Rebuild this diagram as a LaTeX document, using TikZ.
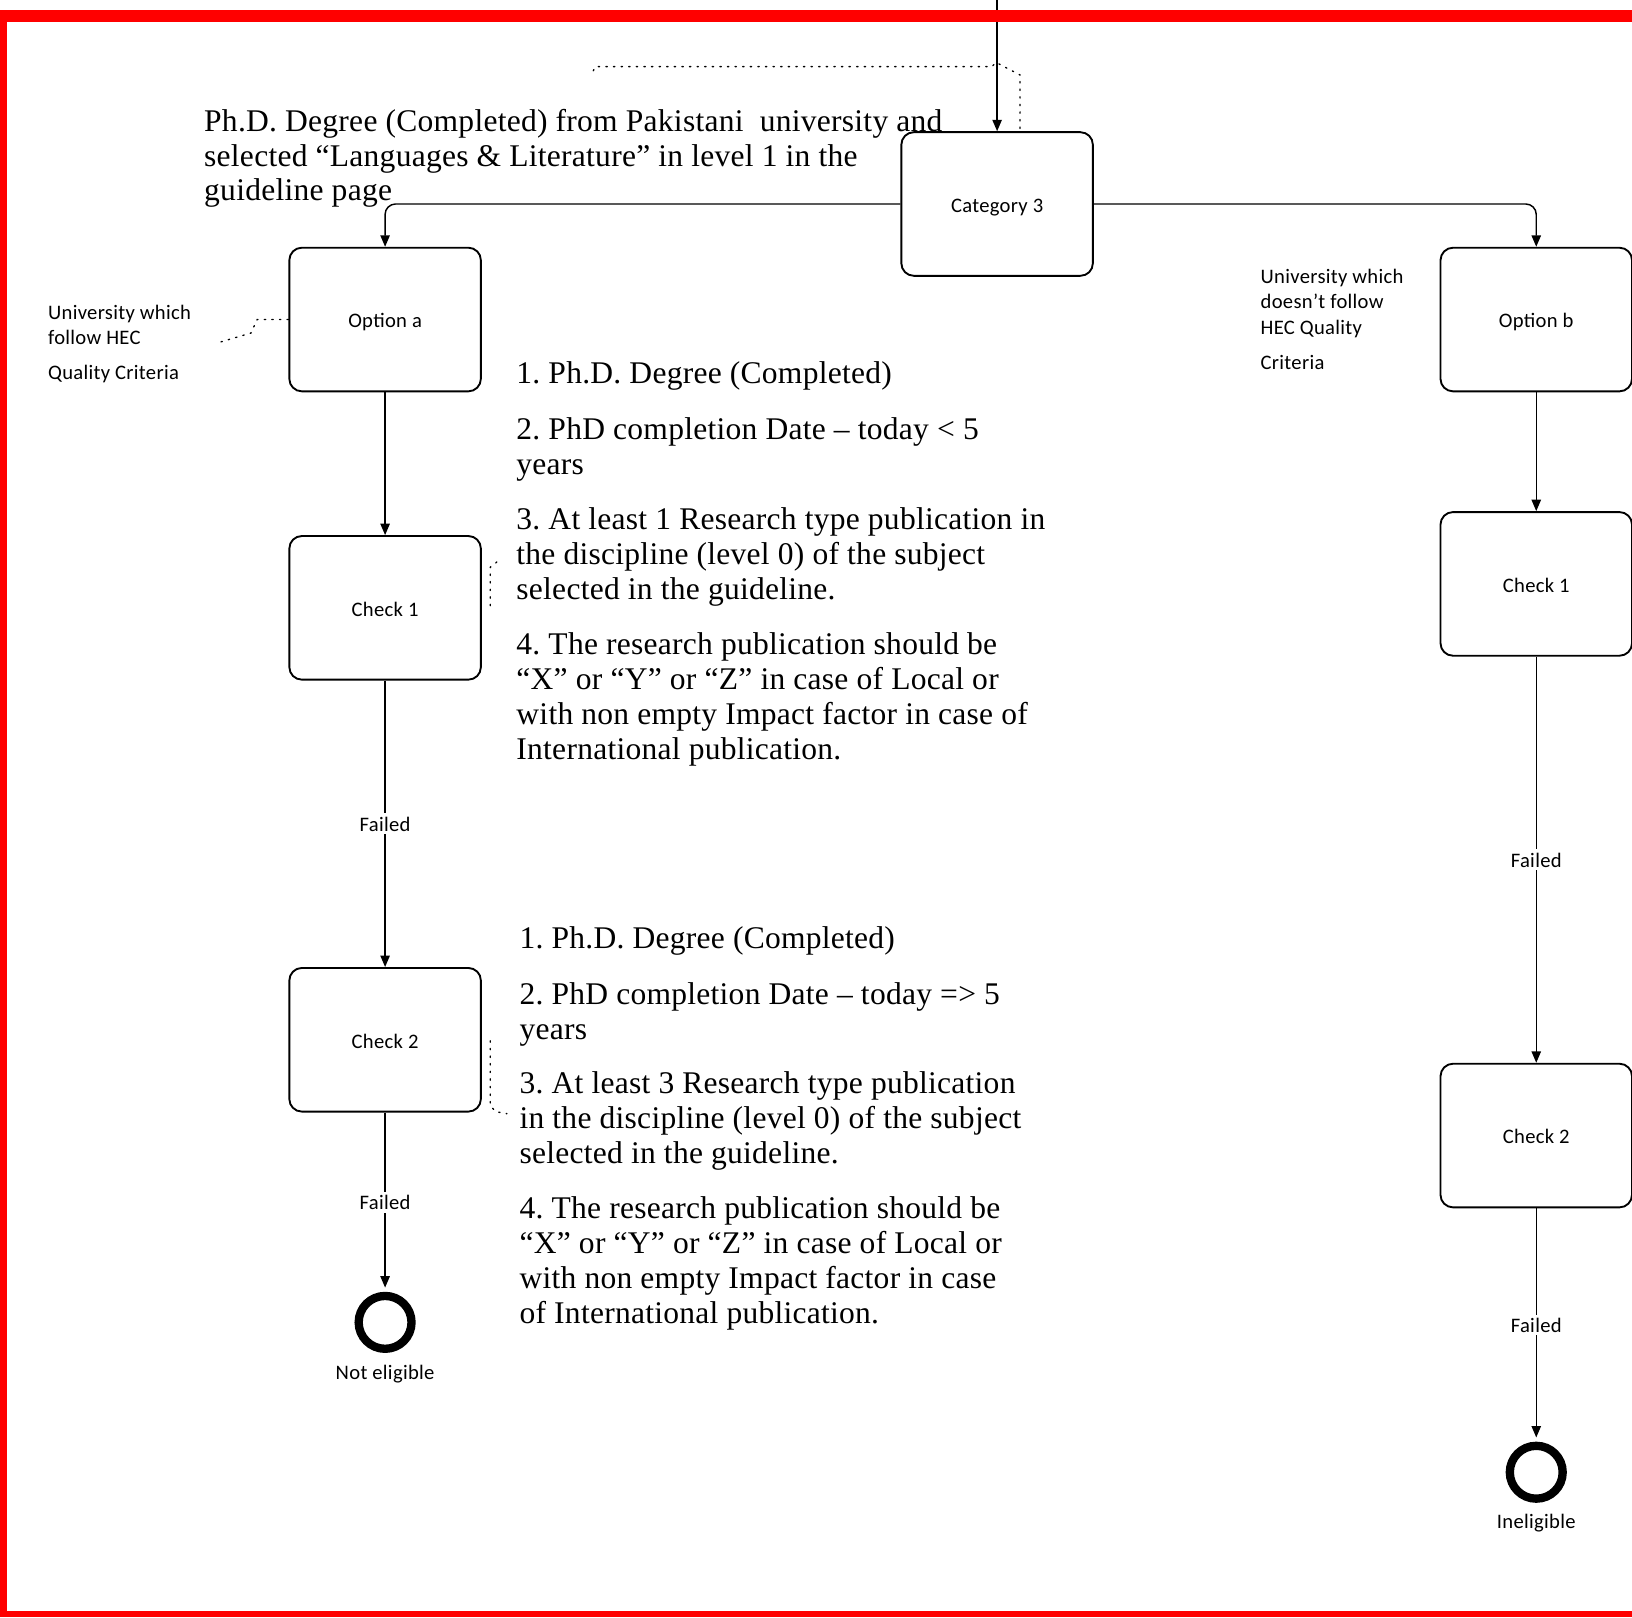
\documentclass[tikz,border=0pt]{standalone}
\usepackage{fontspec}
\setmainfont[LetterSpace=0.8]{Liberation Serif}
\newfontfamily\carlito[LetterSpace=1.5]{Carlito}
\usetikzlibrary{arrows.meta}
\begin{document}
\frenchspacing
\begin{tikzpicture}[x=1pt,y=-1pt,
  box/.style={draw, line width=1.8pt, rounded corners=12pt, minimum width=184pt, minimum height=138pt, inner sep=0pt, text height=16pt, text depth=0pt, font=\carlito\fontsize{19.8}{23}\selectfont},
  arr/.style={line width=1.4pt, -{Triangle[length=11pt,width=9pt]}},
  lbl/.style={fill=white, inner sep=2pt, text height=15pt, text depth=1pt, font=\carlito\fontsize{19.8}{23}\selectfont},
  sans/.style={font=\carlito\fontsize{19.8}{23}\selectfont, inner sep=0pt, anchor=base west},
  endlbl/.style={font=\carlito\fontsize{19.8}{23}\selectfont, inner sep=0pt, text height=15pt, text depth=1pt},
  serif/.style={font=\fontsize{30.3}{33.5}\selectfont, inner sep=0pt, anchor=base west},
  endc/.style={circle, draw, line width=8pt, minimum size=50.8pt, inner sep=0pt},
  note/.style={line width=1.3pt, dash pattern=on 1.3pt off 6pt, line cap=round},
]
\useasboundingbox (0,0) rectangle (1568,1554);

% boxes
\node[box] (cat) at (958,196) {Category 3};
\node[box] (opta) at (370,307) {Option a};
\node[box] (ca1) at (370,584) {Check 1};
\node[box] (ca2) at (370,999) {Check 2};
\node[box] (optb) at (1476,307) {Option b};
\node[box] (cb1) at (1476,561) {Check 1};
\node[box] (cb2) at (1476,1091) {Check 2};
\node[endc] (ea) at (370,1270.5) {};
\node[endc] (eb) at (1476,1414.5) {};
\node[endlbl] (nea) at (370,1318) {Not eligible};
\node[endlbl] (neb) at (1476,1462) {Ineligible};

% connectors
\coordinate (topin) at (958,-2);
\draw[arr] (topin) -- (cat.north);
\draw[arr, rounded corners=10pt] (cat.west) -| (opta.north);
\draw[arr, rounded corners=10pt] (cat.east) -| (optb.north);
\draw[arr] (opta) -- (ca1);
\draw[arr] (ca1) -- node[lbl] (fa1) {Failed} (ca2);
\draw[arr, shorten >=4pt] (ca2) -- node[lbl] (fa2) {Failed} (ea);
\draw[arr] (optb) -- (cb1);
\draw[arr] (cb1) -- node[lbl] (fb1) {Failed} (cb2);
\draw[arr, shorten >=4pt] (cb2) -- node[lbl] (fb2) {Failed} (eb);

% dotted annotation connectors
\coordinate (ncat) at (570,68);
\draw[note] (ncat) -- (572,64) -- (953,64) -- (957,60) -- (980,72) -- ([xshift=22pt]cat.north);
\coordinate (nopta) at (207,330);
\draw[note] (opta.west) -- ++(-30,0) -- ++(-6,13) -- (nopta);
\coordinate (nca1a) at (471,582);
\coordinate (nca1b) at (481,537);
\draw[note] (nca1a) -- (471,545) -- (nca1b);
\coordinate (nca2a) at (471,1000);
\coordinate (nca2b) at (487,1070);
\draw[note] (nca2a) -- (471,1062) -- (476,1068) -- (nca2b);

% side labels
\node[sans] (ua1) at (46,307) {University which};
\node[sans] (ua2) at (46,331) {follow HEC};
\node[sans] (ua3) at (46,365) {Quality Criteria};
\node[sans] (ub1) at (1211,272) {University which};
\node[sans] (ub2) at (1211,296) {doesn’t follow};
\node[sans] (ub3) at (1211,321) {HEC Quality};
\node[sans] (ub4) at (1211,355) {Criteria};

% title
\node[serif] (ti1) at (196,126) {Ph.D. Degree (Completed) from Pakistani\ \ university and};
\node[serif] (ti2) at (196,159.5) {selected “Languages \& Literature” in level 1 in the};
\node[serif] (ti3) at (196,193) {guideline page};

% first list
\node[serif] (a1) at (496,368) {1. Ph.D. Degree (Completed)};
\node[serif] (a2) at (496,422) {2. PhD completion Date – today < 5};
\node[serif] (a3) at (496,455.5) {years};
\node[serif] (a4) at (496,509) {3. At least 1 Research type publication in};
\node[serif] (a5) at (496,542.5) {the discipline (level 0) of the subject};
\node[serif] (a6) at (496,576) {selected in the guideline.};
\node[serif] (a7) at (496,629) {4. The research publication should be};
\node[serif] (a8) at (496,662.5) {“X” or “Y” or “Z” in case of Local or};
\node[serif] (a9) at (496,696) {with non empty Impact factor in case of};
\node[serif] (a10) at (496,729.5) {International publication.};

% second list
\node[serif] (b1) at (499,911) {1. Ph.D. Degree (Completed)};
\node[serif] (b2) at (499,965) {2. PhD completion Date – today => 5};
\node[serif] (b3) at (499,998.5) {years};
\node[serif] (b4) at (499,1051) {3. At least 3 Research type publication};
\node[serif] (b5) at (499,1084.5) {in the discipline (level 0) of the subject};
\node[serif] (b6) at (499,1118) {selected in the guideline.};
\node[serif] (b7) at (499,1171) {4. The research publication should be};
\node[serif] (b8) at (499,1204.5) {“X” or “Y” or “Z” in case of Local or};
\node[serif] (b9) at (499,1238) {with non empty Impact factor in case};
\node[serif] (b10) at (499,1271.5) {of International publication.};

% red frame
\fill[red] (0,10) rectangle (1568,21);
\fill[red] (0,10) rectangle (7,1554);
\fill[red] (0,1548) rectangle (1568,1554);
\end{tikzpicture}
\end{document}
